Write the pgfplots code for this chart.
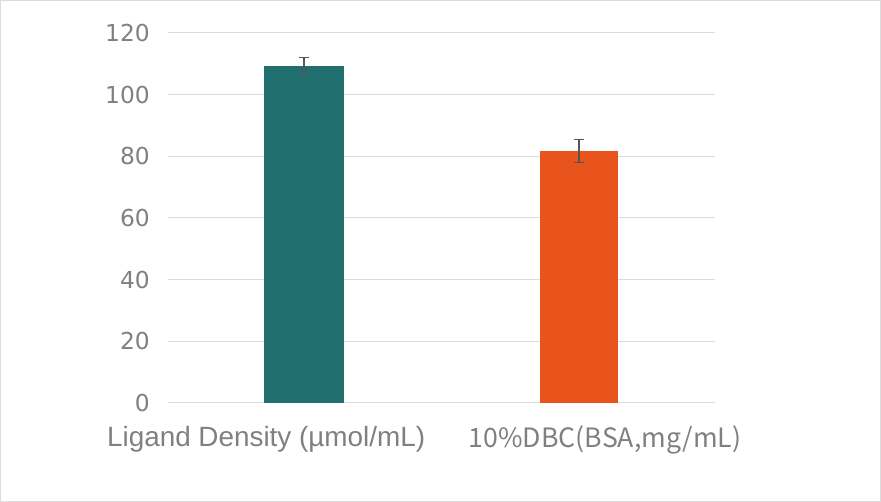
\documentclass[border=0pt]{standalone}
\usepackage{pgfplots}
\pgfplotsset{compat=1.18}
\usepackage{fontspec}
\setmainfont{Liberation Sans}
\newfontfamily\cjk{Noto Sans CJK SC}
\newfontfamily\numfont{DejaVu Sans}
\definecolor{tealbar}{HTML}{226F6F}
\definecolor{orangebar}{HTML}{E8541B}
\definecolor{txtgray}{HTML}{808080}
\definecolor{gridgray}{HTML}{DCDCDC}
\definecolor{errgray}{HTML}{555555}
\begin{document}
\begin{tikzpicture}
% frame of the whole picture, 881 x 502 px at 0.75pt per px
\draw[gridgray, line width=0.8pt] (0.4pt,0.4pt) rectangle (660.35pt,376.1pt);
\begin{axis}[
    at={(126pt,74.25pt)}, anchor=south west,
    scale only axis,
    width=410.25pt, height=277.5pt,
    xmin=-0.495, xmax=1.495,
    ymin=0, ymax=120,
    ytick={0,20,...,120},
    xtick={-0.138,1.095},
    xticklabels={{Ligand Density (µmol/mL)},{\cjk\fontsize{20pt}{22pt}\selectfont 10\%DBC(BSA,mg/mL)}},
    xticklabel style={font=\fontsize{20.9pt}{22pt}\selectfont, text=txtgray,
        inner sep=0pt, yshift=-17pt},
    major tick length=0pt,
    ymajorgrids, grid style={gridgray, line width=0.75pt},
    axis line style={draw=none},
    yticklabel style={font=\numfont\fontsize{17.5pt}{20pt}\selectfont, text=txtgray,
        inner sep=0pt, xshift=-13.5pt},
    /pgf/number format/assume math mode=true,
    ytick style={draw=none}, xtick style={draw=none},
    clip=false,
]
\addplot[ybar, bar width=60pt, fill=tealbar, draw=none, bar shift=0pt,
    error bars/.cd, y dir=both, y explicit,
    error bar style={errgray, line width=1.2pt},
    error mark options={rotate=90, mark size=3.5pt, errgray, line width=1.2pt}]
    coordinates {(0,109.3) +- (0,2.8)};
\addplot[ybar, bar width=59pt, fill=orangebar, draw=none, bar shift=0pt,
    error bars/.cd, y dir=both, y explicit,
    error bar style={errgray, line width=1.2pt},
    error mark options={rotate=90, mark size=3.5pt, errgray, line width=1.2pt}]
    coordinates {(1,81.7) +- (0,3.7)};
\end{axis}
\end{tikzpicture}
\end{document}
